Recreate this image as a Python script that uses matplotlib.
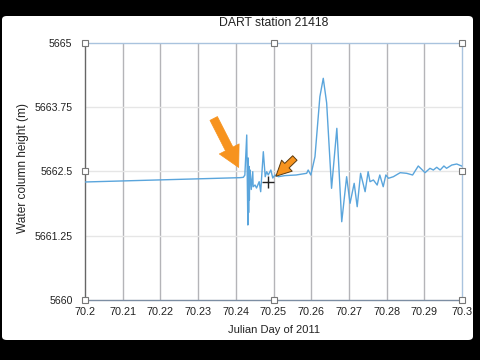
import matplotlib
matplotlib.use('Agg')
import matplotlib.pyplot as plt
from matplotlib.patches import FancyBboxPatch

# DART station 21418 water column height
day = [70.2000, 70.2411, 70.2420, 70.2424, 70.2429, 70.2432, 70.2433, 70.2434,
       70.2435, 70.2436, 70.2437, 70.2438, 70.2441, 70.2445, 70.2446, 70.2451,
       70.2455, 70.2462, 70.2466, 70.2473, 70.2478, 70.2482, 70.2486, 70.2493,
       70.2498, 70.2504, 70.2513, 70.2530, 70.2560, 70.2588, 70.2592, 70.2599,
       70.2610, 70.2623, 70.2632, 70.2641, 70.2654, 70.2668, 70.2681, 70.2694,
       70.2703, 70.2714, 70.2722, 70.2731, 70.2743, 70.2751, 70.2756, 70.2765,
       70.2775, 70.2782, 70.2791, 70.2798, 70.2805, 70.2818, 70.2836, 70.2853,
       70.2869, 70.2884, 70.2893, 70.2902, 70.2915, 70.2924, 70.2933, 70.2942,
       70.2952, 70.2959, 70.2973, 70.2986, 70.2999]
height = [5662.296, 5662.380, 5662.387, 5662.430, 5663.210, 5661.459, 5662.763, 5661.700,
          5662.600, 5661.946, 5662.450, 5662.529, 5662.150, 5662.496, 5662.204, 5662.237,
          5662.179, 5662.302, 5662.107, 5662.885, 5662.399, 5662.496, 5662.432, 5662.529,
          5662.374, 5662.432, 5662.399, 5662.420, 5662.432, 5662.465, 5662.529, 5662.432,
          5662.788, 5663.955, 5664.313, 5663.833, 5662.173, 5663.340, 5661.523, 5662.399,
          5661.881, 5662.270, 5661.815, 5662.465, 5662.107, 5662.496, 5662.302, 5662.335,
          5662.237, 5662.432, 5662.204, 5662.432, 5662.368, 5662.399, 5662.477, 5662.465,
          5662.432, 5662.607, 5662.543, 5662.477, 5662.562, 5662.529, 5662.582, 5662.529,
          5662.607, 5662.562, 5662.626, 5662.646, 5662.607]

xticks = [70.2, 70.21, 70.22, 70.23, 70.24, 70.25, 70.26, 70.27, 70.28, 70.29, 70.3]
xlabels = ['70.2', '70.21', '70.22', '70.23', '70.24', '70.25', '70.26', '70.27', '70.28', '70.29', '70.3']
yticks = [5660, 5661.25, 5662.5, 5663.75, 5665]
ylabels = ['5660', '5661.25', '5662.5', '5663.75', '5665']

plt.rcParams['font.family'] = ['Liberation Sans', 'DejaVu Sans']

fig = plt.figure(figsize=(4.8, 3.6), dpi=100, facecolor='black')
# white window of the screenshot
win = FancyBboxPatch((2 / 480, 20 / 360), 471 / 480, 324 / 360,
                     boxstyle='round,pad=0,rounding_size=0.01',
                     transform=fig.transFigure, facecolor='white', edgecolor='none',
                     zorder=-10)
fig.patches.append(win)

ax = fig.add_axes([85 / 480, 60 / 360, 377 / 480, 257 / 360])
ax.set_zorder(1)
ax.set_facecolor('white')
ax.set_xlim(70.2, 70.3)
ax.set_ylim(5660, 5665)
ax.set_xticks(xticks)
ax.set_xticklabels(xlabels)
ax.set_yticks(yticks)
ax.set_yticklabels(ylabels)
ax.tick_params(length=0, labelsize=7.8, colors='#222222')
ax.tick_params(axis='y', pad=9, labelsize=7.6)
ax.tick_params(axis='x', pad=5)

for x in xticks[1:-1]:
    ax.axvline(x, color='#b4b4b8', lw=1.0, zorder=1)
for y in yticks[1:-1]:
    ax.axhline(y, color='#e6e6e6', lw=1.0, zorder=1)

ax.spines['left'].set_color('#666666')
ax.spines['bottom'].set_color('#7d8ea3')
ax.spines['top'].set_color('#a9c3de')
ax.spines['right'].set_color('#a9c3de')
for s in ax.spines.values():
    s.set_linewidth(1.0)

ax.plot(day, height, color='#5aa5dc', lw=1.0, zorder=3)

# selection handles of the chart frame
hx = [70.2, 70.25, 70.3, 70.2, 70.3, 70.2, 70.25, 70.3]
hy = [5665, 5665, 5665, 5662.5, 5662.5, 5660, 5660, 5660]
ax.plot(hx, hy, ls='none', marker='s', ms=4.5, mfc='white', mec='#777777',
        mew=0.8, clip_on=False, zorder=5)

# orange arrows and cursor from the screenshot
ax.annotate('', xy=(70.2411, 5662.53), xytext=(70.2338, 5663.58),
            arrowprops=dict(arrowstyle='simple,head_length=1.5,head_width=1.6,tail_width=0.6',
                            fc='#f7931e', ec='#f7931e', lw=0.5), zorder=6)
ax.annotate('', xy=(70.2501, 5662.37), xytext=(70.2562, 5662.80),
            arrowprops=dict(arrowstyle='simple,head_length=1.1,head_width=1.1,tail_width=0.45',
                            fc='#f7931e', ec='#5a3a10', lw=0.7), zorder=6)
ax.plot([70.2485], [5662.30], marker='+', ms=8, mew=1.0, color='#222222', zorder=7)

ax.set_title('DART station 21418', fontsize=8.8, color='#222222', pad=12)
ax.set_xlabel('Julian Day of 2011', fontsize=8, color='#222222', labelpad=6)
ax.set_ylabel('Water column height (m)', fontsize=8.6, color='#222222')
ax.yaxis.set_label_coords(-0.148, 0.515)

fig.savefig('out.png', dpi=100, facecolor='black')
